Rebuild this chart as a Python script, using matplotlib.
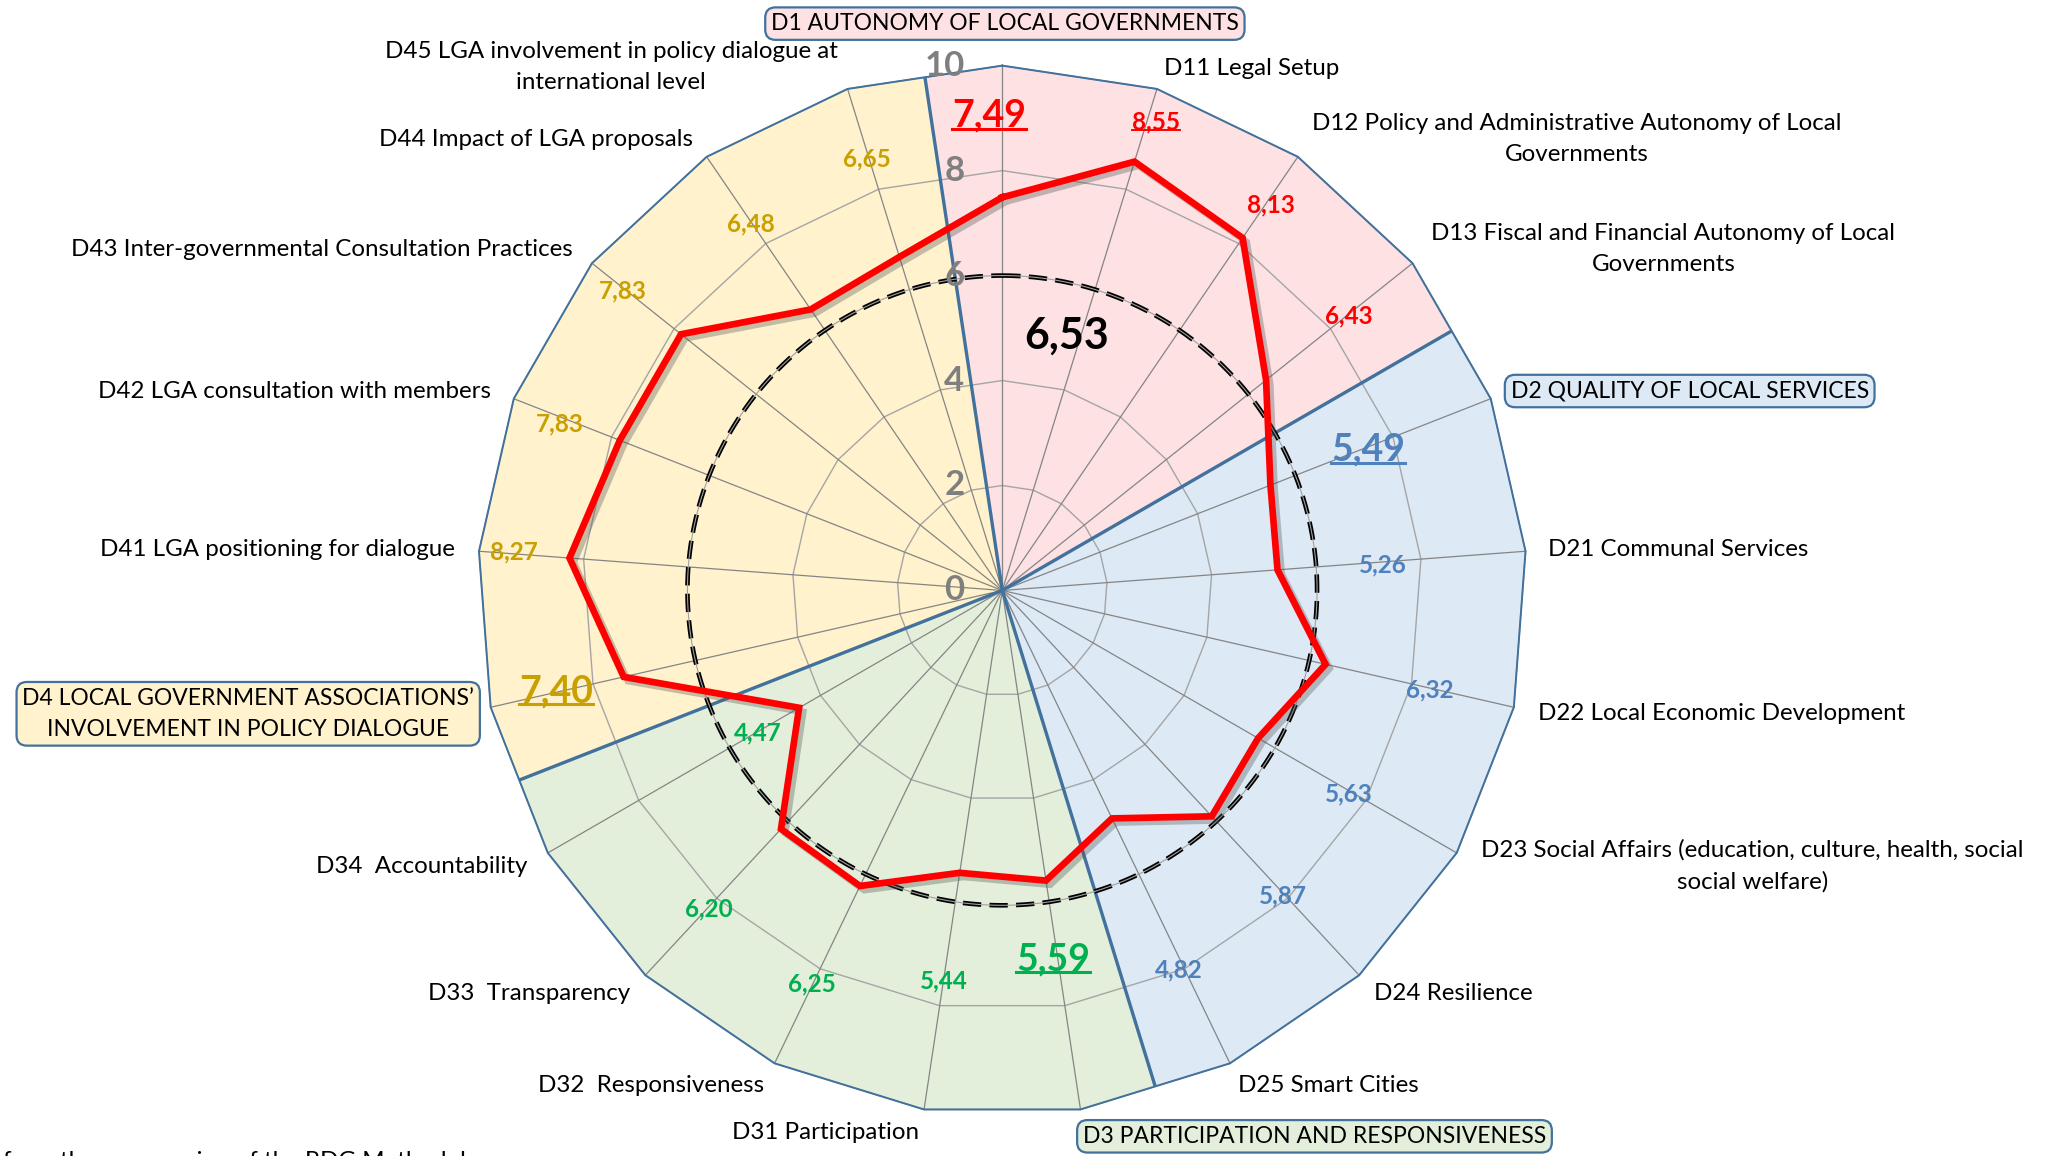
import numpy as np
import matplotlib
matplotlib.use("Agg")
import matplotlib.pyplot as plt
import matplotlib.patheffects as pe
from matplotlib.patches import Polygon
from matplotlib.lines import Line2D

plt.rcParams['font.family'] = ['Lato', 'DejaVu Sans']

# spokes: each dimension average followed by its indicators
codes = ['D1', 'D11', 'D12', 'D13',
         'D2', 'D21', 'D22', 'D23', 'D24', 'D25',
         'D3', 'D31', 'D32', 'D33', 'D34',
         'D4', 'D41', 'D42', 'D43', 'D44', 'D45']
scores = [7.49, 8.55, 8.13, 6.43,
          5.49, 5.26, 6.32, 5.63, 5.87, 4.82,
          5.59, 5.44, 6.25, 6.20, 4.47,
          7.40, 8.27, 7.83, 7.83, 6.48, 6.65]
group_of = [0] * 4 + [1] * 6 + [2] * 5 + [3] * 6
overall = 6.53
reference_level = 6
ring_levels = [0, 2, 4, 6, 8, 10]
r_max = 10

dimensions = ['D1 AUTONOMY OF LOCAL GOVERNMENTS',
              'D2 QUALITY OF LOCAL SERVICES',
              'D3 PARTICIPATION AND RESPONSIVENESS',
              'D4 LOCAL GOVERNMENT ASSOCIATIONS\u2019\nINVOLVEMENT IN POLICY DIALOGUE']
indicator_names = {
    'D11': 'D11 Legal Setup',
    'D12': 'D12 Policy and Administrative Autonomy of Local\nGovernments',
    'D13': 'D13 Fiscal and Financial Autonomy of Local\nGovernments',
    'D21': 'D21 Communal Services',
    'D22': 'D22 Local Economic Development',
    'D23': 'D23 Social Affairs (education, culture, health, social\nsocial welfare)',
    'D24': 'D24 Resilience',
    'D25': 'D25 Smart Cities',
    'D31': 'D31 Participation',
    'D32': 'D32  Responsiveness',
    'D33': 'D33  Transparency',
    'D34': 'D34  Accountability',
    'D41': 'D41 LGA positioning for dialogue',
    'D42': 'D42 LGA consultation with members',
    'D43': 'D43 Inter-governmental Consultation Practices',
    'D44': 'D44 Impact of LGA proposals',
    'D45': 'D45 LGA involvement in policy dialogue at\ninternational level',
}
footnote = 'from the new version of the RDG Methodology'

# layout / style
fill_colors = ['#FDE1E3', '#DDE9F5', '#E3EFDA', '#FFF2CC']
text_colors = ['#FF0000', '#4F81BD', '#00B050', '#C9A000']
edge_blue = '#41719C'
value_label_r = [9.05, 9.4, 8.95, 8.42,
                 7.47, 7.27, 8.37, 7.65, 7.9, 7.97,
                 7.09, 7.53, 8.33, 8.26, 5.4,
                 8.72, 9.33, 9.0, 9.2, 8.47, 8.62]
value_label_turn = [-1.6, 1.0, 0.6, 0.2,
                    0.4, 0.4, 0.2, 0.4, 0.3, 0.8,
                    0.7, 0.0, 0.1, -0.2, -0.2,
                    0.1, 0.2, -0.8, -0.3, -0.2, -0.3]
name_pos = {  # (x, y, ha)
    'D11': (3.08, 9.95, 'left'), 'D12': (10.95, 8.6, 'center'),
    'D13': (12.6, 6.5, 'center'), 'D21': (10.4, 0.78, 'left'),
    'D22': (10.2, -2.35, 'left'), 'D23': (14.3, -5.25, 'center'),
    'D24': (7.08, -7.68, 'left'), 'D25': (4.5, -9.43, 'left'),
    'D31': (-5.15, -10.33, 'left'), 'D32': (-8.85, -9.43, 'left'),
    'D33': (-10.95, -7.68, 'left'), 'D34': (-13.08, -5.25, 'left'),
    'D41': (-10.43, 0.78, 'right'), 'D42': (-9.75, 3.8, 'right'),
    'D43': (-8.18, 6.5, 'right'), 'D44': (-5.9, 8.6, 'right'),
    'D45': (-7.45, 9.98, 'center'),
}
box_pos = [(0.05, 10.8), (13.1, 3.8), (5.95, -10.4), (-14.37, -2.35)]
label_size = 17.4

n = len(codes)
step = 2 * np.pi / n
theta = np.arange(n) * step          # clockwise from north


def xy(r, a):
    return np.asarray(r) * np.sin(a), np.asarray(r) * np.cos(a)


def smooth_closed(x, y, k=24):
    # periodic Catmull-Rom curve through the given points
    P = np.column_stack([x, y])
    m = len(P)
    t = np.linspace(0, 1, k, endpoint=False)[:, None]
    out = []
    for i in range(m):
        p0, p1, p2, p3 = P[i - 1], P[i], P[(i + 1) % m], P[(i + 2) % m]
        out.append(0.5 * (2 * p1 + (-p0 + p2) * t + (2 * p0 - 5 * p1 + 4 * p2 - p3) * t ** 2
                          + (-p0 + 3 * p1 - 3 * p2 + p3) * t ** 3))
    out = np.vstack(out + [P[:1]])
    return out[:, 0], out[:, 1]


fig = plt.figure(figsize=(20.57, 11.56), dpi=100)
ax = fig.add_axes([0, 0, 1, 1])
ax.set_xlim(-19.1, 20.1)
ax.set_ylim(-10.775, 11.25)
ax.axis('off')

# coloured sectors
for g in range(4):
    idx = [i for i in range(n) if group_of[i] == g]
    a0 = theta[idx[0]] - step / 2
    a1 = theta[idx[-1]] + step / 2
    rh = r_max * np.cos(step / 2)
    pts = [(0, 0), xy(rh, a0)] + [xy(r_max, theta[i]) for i in idx] + [xy(rh, a1)]
    ax.add_patch(Polygon(pts, closed=True, fc=fill_colors[g], ec='none', zorder=1))

# grid rings and spokes
closed = np.append(theta, theta[0])
for lvl in ring_levels[1:]:
    if lvl == reference_level:
        continue
    gx, gy = xy(lvl, closed)
    ax.plot(gx, gy, color='#A5A5A5', lw=1.0, zorder=2)
for a in theta:
    sx, sy = xy([0, r_max], a)
    ax.plot(sx, sy, color='#858585', lw=0.9, zorder=2)

# sector boundaries and outer outline
ox, oy = xy(r_max, closed)
ax.plot(ox, oy, color=edge_blue, lw=1.4, zorder=3)
for g in range(4):
    idx = [i for i in range(n) if group_of[i] == g]
    a0 = theta[idx[0]] - step / 2
    bx, by = xy([0, r_max * np.cos(step / 2)], a0)
    ax.plot(bx, by, color=edge_blue, lw=2.4, zorder=3, solid_capstyle='butt')

# reference ring (smoothed, dashed)
rx, ry = xy(np.full(n, reference_level), theta)
sx, sy = smooth_closed(rx, ry)
ax.plot(sx, sy, color='black', lw=3.3, ls=(0, (4, 1.8)), zorder=4)
ax.plot(sx, sy, color='#A0A0A0', lw=0.8, zorder=4)

# score line
vals = np.append(scores, scores[0])
px, py = xy(vals, closed)
ax.plot(px, py, color='#FF0000', lw=4.8, zorder=5, solid_joinstyle='miter',
        path_effects=[pe.SimpleLineShadow(offset=(3, -3), shadow_color='#555555', alpha=0.35),
                      pe.Normal()])

# radial tick labels
for lvl in ring_levels:
    ax.text(-0.72, lvl, str(lvl), ha='right', va='center', fontsize=25,
            fontweight='bold', color='#7F7F7F', zorder=6)

# value labels
underlined = []
for i in range(n):
    tx, ty = xy(value_label_r[i], theta[i] + np.radians(value_label_turn[i]))
    is_avg = codes[i] in ('D1', 'D2', 'D3', 'D4')
    t = ax.text(tx, ty, f'{scores[i]:.2f}'.replace('.', ','), ha='center', va='center',
                fontsize=27 if is_avg else 17.5, fontweight='bold',
                color=text_colors[group_of[i]], zorder=6)
    if is_avg or codes[i] == 'D11':
        underlined.append(t)

ax.text(1.22, 4.85, f'{overall:.2f}'.replace('.', ','), ha='center', va='center',
        fontsize=31, fontweight='bold', color='black', zorder=6)

# indicator names
for code, name in indicator_names.items():
    x, y, ha = name_pos[code]
    ax.text(x, y, name, ha=ha, va='center', multialignment='center',
            fontsize=label_size, color='black', zorder=6, linespacing=1.6)

# dimension boxes
for g in range(4):
    x, y = box_pos[g]
    ax.text(x, y, dimensions[g], ha='center', va='center', multialignment='center',
            fontsize=16.5, color='black', zorder=7, linespacing=1.6,
            bbox=dict(boxstyle='round,pad=0.25,rounding_size=0.45', fc=fill_colors[g],
                      ec=edge_blue, lw=1.6))

ax.text(-19.05, -11.0, footnote, ha='left', va='baseline', fontsize=label_size, color='black')

# underline the highlighted values
fig.canvas.draw()
r = fig.canvas.get_renderer()
inv = ax.transData.inverted()
for t in underlined:
    bb = t.get_window_extent(renderer=r)
    (x0, y0), (x1, y1) = inv.transform([(bb.x0, bb.y0), (bb.x1, bb.y1)])
    yl = y0 + (y1 - y0) * 0.12
    ax.add_line(Line2D([x0, x1], [yl, yl], color=t.get_color(),
                       lw=2.2 if t.get_fontsize() > 20 else 1.4, zorder=6))

fig.savefig('out.png', dpi=100)
